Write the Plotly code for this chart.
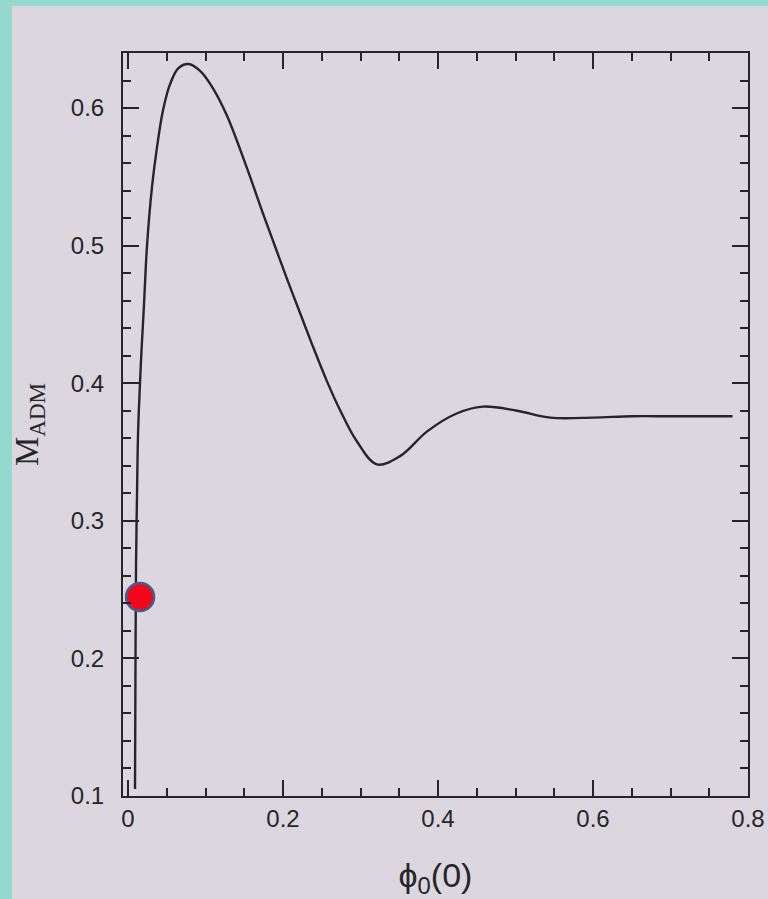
import plotly.graph_objects as go

# ADM mass versus central field amplitude
phi_c = [0.009, 0.0095, 0.0103, 0.0115, 0.013, 0.0155, 0.0175, 0.0205, 0.0245,
         0.031, 0.037, 0.045, 0.054, 0.065, 0.078, 0.093, 0.110, 0.128, 0.153,
         0.175, 0.190, 0.205, 0.222, 0.237, 0.257, 0.274, 0.295, 0.321, 0.351,
         0.386, 0.424, 0.458, 0.502, 0.545, 0.60, 0.65, 0.70, 0.78]
m_adm = [0.105, 0.18, 0.267, 0.316, 0.365, 0.401, 0.425, 0.456, 0.500,
         0.543, 0.570, 0.598, 0.617, 0.629, 0.632, 0.627, 0.614, 0.594, 0.557,
         0.522, 0.499, 0.476, 0.451, 0.429, 0.401, 0.380, 0.358, 0.341, 0.347,
         0.365, 0.378, 0.383, 0.380, 0.375, 0.375, 0.376, 0.376, 0.376]

# highlighted configuration
point_x = [0.0155]
point_y = [0.2446]

x_ticks = [0, 0.2, 0.4, 0.6, 0.8]
x_labels = ["0", "0.2", "0.4", "0.6", "0.8"]
y_ticks = [0.1, 0.2, 0.3, 0.4, 0.5, 0.6]
y_labels = ["0.1", "0.2", "0.3", "0.4", "0.5", "0.6"]

BG = "#dcd7de"
INK = "#262629"
EDGE = "#94d8ce"
SANS = "Liberation Sans, Arial, sans-serif"
SERIF = "Liberation Serif, Times New Roman, serif"

fig = go.Figure()
fig.add_trace(go.Scatter(
    x=phi_c, y=m_adm, mode="lines",
    line=dict(color=INK, width=2.4, shape="spline", smoothing=1.0),
    hoverinfo="skip", showlegend=False,
))
fig.add_trace(go.Scatter(
    x=point_x, y=point_y, mode="markers",
    marker=dict(size=28, color="#f2081a", line=dict(color="#3f5f8f", width=2.5)),
    showlegend=False,
))

W, H = 768, 899
ml, mr, mt, mb = 123, 20, 53, 103
pw, ph = W - ml - mr, H - mt - mb

# teal border strips along the left and top edges
fig.add_shape(type="rect", xref="paper", yref="paper",
              x0=-ml / pw, x1=-(ml - 12) / pw, y0=-mb / ph, y1=1 + mt / ph,
              fillcolor=EDGE, line_width=0, layer="below")
fig.add_shape(type="rect", xref="paper", yref="paper",
              x0=-ml / pw, x1=1 + mr / pw, y0=1 + (mt - 6) / ph, y1=1 + mt / ph,
              fillcolor=EDGE, line_width=0, layer="below")

axis_common = dict(
    showline=True, linecolor=INK, linewidth=2, mirror="ticks",
    ticks="inside", tickcolor=INK, tickwidth=1.5, ticklen=16,
    showgrid=False, zeroline=False,
    tickfont=dict(family=SANS, size=24, color=INK),
)
minor_common = dict(ticks="inside", ticklen=8, tickcolor=INK, tickwidth=1.5)

fig.update_xaxes(
    range=[-0.0065, 0.8], tickvals=x_ticks, ticktext=x_labels,
    minor=dict(dtick=0.05, tick0=0, **minor_common),
    ticklabelstandoff=0,
    title=dict(text="ϕ<sub>0</sub>(0)", standoff=32,
               font=dict(family=SANS, size=34, color=INK)),
    **axis_common,
)
fig.update_yaxes(
    range=[0.1, 0.64], tickvals=y_ticks, ticktext=y_labels,
    minor=dict(dtick=0.02, tick0=0.1, **minor_common),
    ticklabelstandoff=12,
    title=dict(text="M<sub>ADM</sub>", standoff=22,
               font=dict(family=SERIF, size=33, color=INK)),
    **axis_common,
)

fig.update_layout(
    width=W, height=H,
    margin=dict(l=ml, r=mr, t=mt, b=mb, autoexpand=False),
    paper_bgcolor=BG, plot_bgcolor=BG,
    font=dict(family=SANS, size=24, color=INK),
)

fig.write_html("out.html")
